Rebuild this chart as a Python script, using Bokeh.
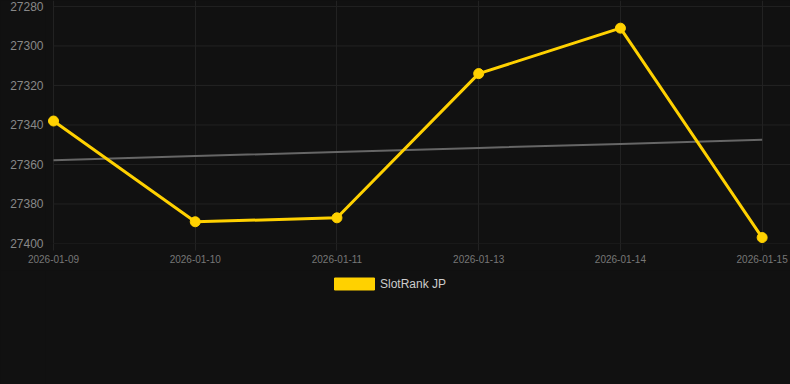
import numpy as np
from bokeh.plotting import figure
from bokeh.layouts import column
from bokeh.models import Range1d, FixedTicker, Legend, LegendItem
from bokeh.embed import file_html
from bokeh.resources import INLINE

dates = ["2026-01-09", "2026-01-10", "2026-01-11", "2026-01-13", "2026-01-14", "2026-01-15"]
ranks = [27338, 27389, 27387, 27314, 27291, 27397]
y_ticks = [27280, 27300, 27320, 27340, 27360, 27380, 27400]
series_name = "SlotRank JP"

xs = list(range(len(dates)))
slope, intercept = np.polyfit(xs, ranks, 1)
trend = [slope * x + intercept for x in xs]

BG = "#111111"
GRID = "#222222"
YELLOW = "#FFD100"
X_END = 5.2

p = figure(width=790, height=270, output_backend="svg", toolbar_location=None,
           x_range=Range1d(-0.0565, X_END), y_range=Range1d(27400, 27277),
           background_fill_color=BG, border_fill_color=BG, outline_line_color=None,
           min_border_left=45, min_border_right=0, min_border_top=0, min_border_bottom=27)

# horizontal grid lines starting at the first category
p.segment(x0=[0] * len(y_ticks), x1=[X_END] * len(y_ticks), y0=y_ticks, y1=y_ticks,
          line_color=GRID, line_width=1)

p.line(xs, trend, line_color="#666666", line_width=2)
p.line(xs, ranks, line_color=YELLOW, line_width=3)
p.scatter(xs, ranks, size=10, fill_color=YELLOW, line_color=YELLOW)

p.xaxis.ticker = FixedTicker(ticks=xs)
p.xaxis.major_label_overrides = {i: d for i, d in enumerate(dates)}
p.yaxis.ticker = FixedTicker(ticks=y_ticks)

for ax in (p.xaxis, p.yaxis):
    ax.axis_line_color = None
    ax.minor_tick_line_color = None
    ax.major_label_text_font = "Liberation Sans"
p.yaxis.major_tick_line_color = None
p.yaxis.major_tick_out = 0
p.yaxis.major_tick_in = 0
p.yaxis.major_label_text_font_size = "12px"
p.yaxis.major_label_text_color = "#888888"
p.yaxis.major_label_standoff = 2
p.xaxis.major_tick_line_color = GRID
p.xaxis.major_tick_out = 7
p.xaxis.major_tick_in = 0
p.xaxis.major_label_text_font_size = "10px"
p.xaxis.major_label_text_color = "#777777"
p.xaxis.major_label_standoff = 4

p.xgrid.grid_line_color = GRID
p.ygrid.grid_line_color = None

# legend panel
p2 = figure(width=790, height=114, output_backend="svg", toolbar_location=None,
            x_range=Range1d(0, 1), y_range=Range1d(0, 1),
            background_fill_color=BG, border_fill_color=BG, outline_line_color=None,
            min_border_left=0, min_border_right=0, min_border_top=0, min_border_bottom=0)
p2.axis.visible = False
p2.grid.visible = False
swatch = p2.quad(left=[np.nan], right=[np.nan], top=[np.nan], bottom=[np.nan],
                 fill_color=YELLOW, line_color=YELLOW)
legend = Legend(items=[LegendItem(label=series_name, renderers=[swatch])],
                location=(284, 93), orientation="horizontal",
                background_fill_alpha=0, border_line_color=None,
                label_text_font="Liberation Sans", label_text_font_size="12px",
                label_text_color="#CCCCCC", glyph_width=50, glyph_height=15,
                margin=0, padding=0, label_standoff=1)
p2.add_layout(legend, "center")

layout = column(p, p2, spacing=0, styles={"background-color": BG})
open("out.html", "w").write(file_html(layout, INLINE))
